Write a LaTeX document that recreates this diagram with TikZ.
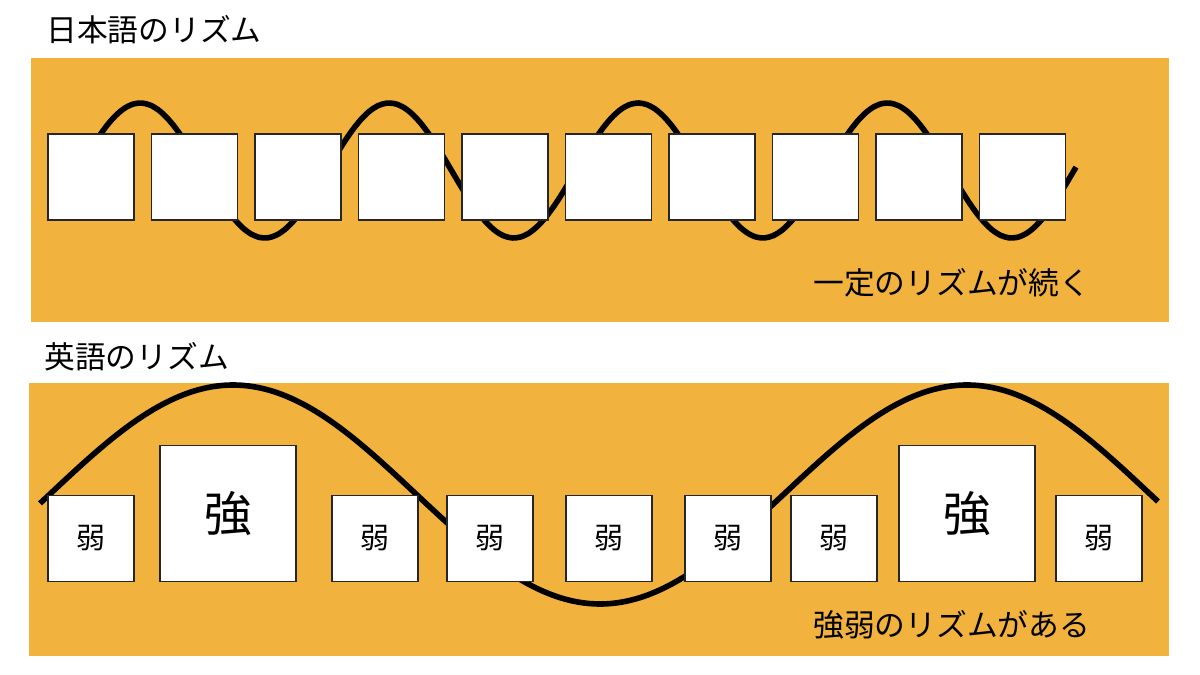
\documentclass[tikz,border=0pt]{standalone}
\usepackage{fontspec}
\setmainfont{Noto Sans CJK JP}
\usetikzlibrary{positioning}
\definecolor{bandorange}{RGB}{242,178,62}

\begin{document}
\begin{tikzpicture}[x=0.02cm, y=-0.02cm,
    syl/.style={draw=black!85, line width=0.8pt, fill=white, minimum size=1.72cm, inner sep=0pt, font=\fontsize{16.5}{16.5}\selectfont},
    strong/.style={syl, minimum size=2.72cm, font=\fontsize{27}{27}\selectfont},
    heading/.style={anchor=west, inner sep=0pt, font=\fontsize{17.5}{17.5}\selectfont},
    wave/.style={line width=3.2pt}]
    \useasboundingbox (0,0) rectangle (1200,675);

    % background bands
    \fill[bandorange] (31,58) rectangle (1169,322);
    \fill[bandorange] (29,383) rectangle (1169,656);

    % Japanese: steady rhythm
    \node[heading] (jatitle) at (46,30) {日本語のリズム};
    \draw[wave, domain=75:1076, samples=120, smooth] plot (\x, {170.5 - 67.5*sin((\x-78)/249*360)});
    \foreach \i in {0,...,9}
        \node[syl] (ja\i) at ({91+103.5*\i},177) {};
    \node[heading] (janote) at (813,283) {一定のリズムが続く};

    % English: strong and weak
    \node[heading] (entitle) at (44,357) {英語のリズム};
    \draw[wave, domain=40:1158, samples=150, smooth] plot (\x, {494.5 - 109.5*cos((\x-233)/734*360)});
    \foreach \n/\cx/\kind/\ch in {1/91/syl/弱, 2/228/strong/強, 3/375/syl/弱, 4/490/syl/弱, 5/609/syl/弱, 6/728/syl/弱, 7/834/syl/弱, 8/967/strong/強, 9/1099/syl/弱}
        \node[\kind, anchor=south] (en\n) at (\cx,582) {\ch};
    \node[heading] (ennote) at (813,625) {強弱のリズムがある};
\end{tikzpicture}
\end{document}
